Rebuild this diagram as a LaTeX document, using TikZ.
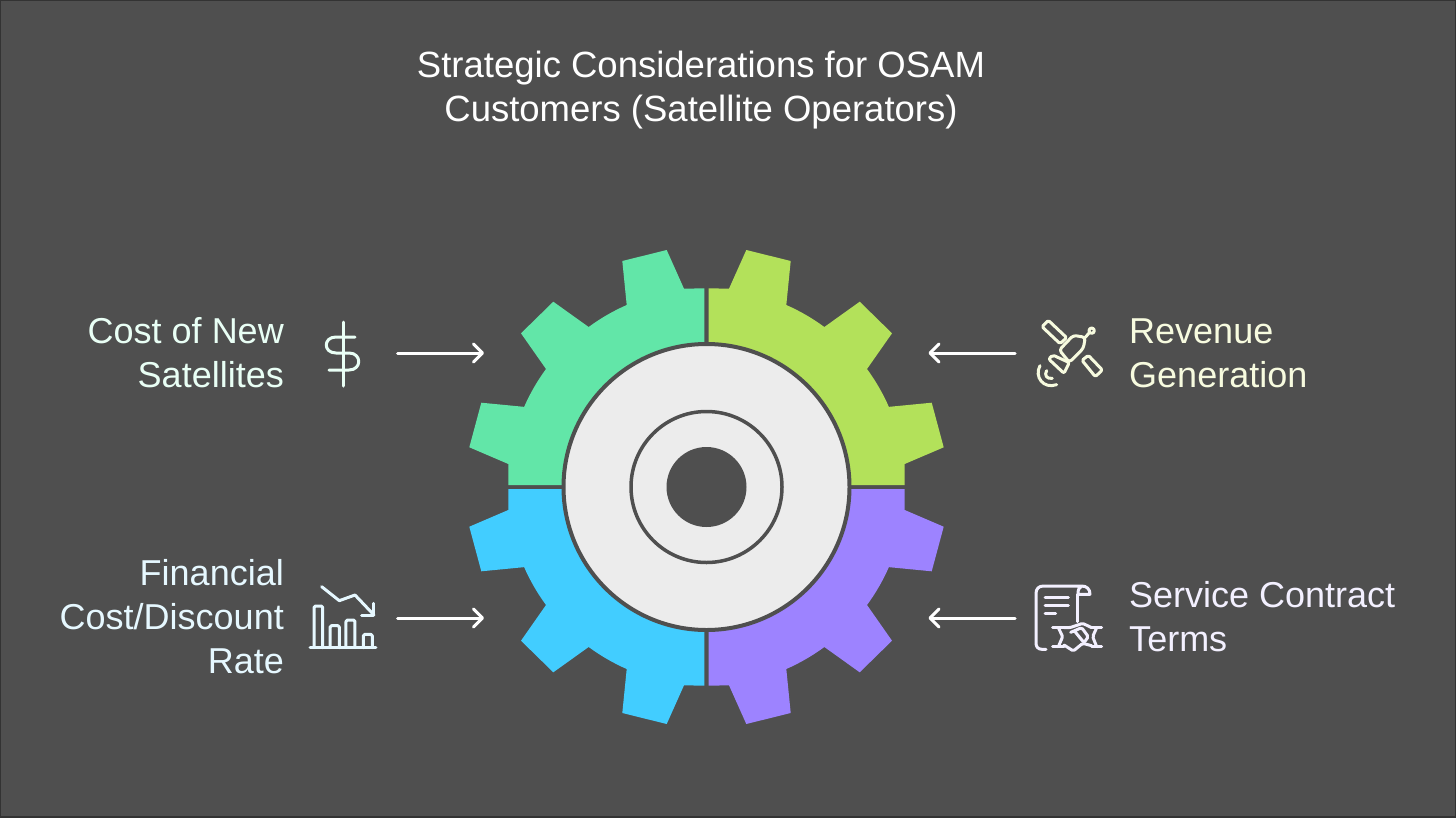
\documentclass[tikz,border=0pt]{standalone}
\usepackage{fontspec}
\setmainfont{Liberation Sans}
\usetikzlibrary{arrows.meta}
\definecolor{bgc}{HTML}{4F4F4F}
\definecolor{edgec}{HTML}{333333}
\definecolor{gg}{HTML}{62E6A8}
\definecolor{gl}{HTML}{B3E15A}
\definecolor{gb}{HTML}{42CDFF}
\definecolor{gp}{HTML}{9D83FF}
\definecolor{disc}{HTML}{ECECEC}
\definecolor{tg}{HTML}{E9FFF5}
\definecolor{ty}{HTML}{F7FBDF}
\definecolor{tb}{HTML}{E6F8FF}
\definecolor{tp}{HTML}{F3F0FF}
\tikzset{
  lbl/.style={font=\fontsize{36}{44}\selectfont,inner sep=0pt},
  ttl/.style={font=\fontsize{36.5}{44}\selectfont,inner sep=0pt,text=white,align=center},
  arr/.style={white,line width=3pt,line cap=round,line join=round,-{Straight Barb[length=9pt,width=18pt,round,line width=3pt]}},
  icon/.style={line width=3pt,line cap=round,line join=round,rounded corners=1.5pt},
}
% one quadrant of the gear, upper left, relative to the gear centre
\newcommand{\quadrantpath}{
  (-2.2,-143.7) -- (-2.2,-198.7) -- (-22.5,-198.3) -- (-39.8,-237) -- (-84.2,-226) -- (-79.8,-182)
  arc[start angle=-113.7,end angle=-126.4,radius=198.7]
  -- (-153.2,-185.3) -- (-185.5,-153.7) -- (-160.5,-118)
  arc[start angle=-143.7,end angle=-156.3,radius=199.2]
  -- (-225.2,-84.3) -- (-237.2,-39.7) -- (-198.2,-23) -- (-198.2,-2) -- (-143.2,-2)
  arc[start angle=-179.2,end angle=-91,radius=143.2] -- cycle
}
\begin{document}
\begin{tikzpicture}[x=1pt,y=-1pt]
\useasboundingbox (0,0) rectangle (1456,817);
\fill[bgc] (0,0) rectangle (1456,817);
\draw[edgec,line width=2pt] (0,0) rectangle (1456,817);

\node[ttl] (title) at (701,90) {Strategic Considerations for OSAM\\Customers (Satellite Operators)};

\coordinate (gc) at (706.5,487);
\begin{scope}[shift={(706.5,487)}]
  \fill[gg] \quadrantpath;
  \begin{scope}[xscale=-1]\fill[gl] \quadrantpath;\end{scope}
  \begin{scope}[yscale=-1]\fill[gb] \quadrantpath;\end{scope}
  \begin{scope}[xscale=-1,yscale=-1]\fill[gp] \quadrantpath;\end{scope}
\end{scope}
\node[circle,draw=bgc,fill=disc,line width=4pt,minimum size=286pt,inner sep=0pt] (disk) at (gc) {};
\node[circle,draw=bgc,fill=disc,line width=3.5pt,minimum size=151pt,inner sep=0pt] (ring) at (gc) {};
\node[circle,fill=bgc,minimum size=80pt,inner sep=0pt] (hole) at (gc) {};

\node[lbl,text=tg,align=right,anchor=east] (cost) at (284,353) {Cost of New\\Satellites};
\node[lbl,text=ty,align=left,anchor=west] (rev) at (1129,353) {Revenue\\Generation};
\node[lbl,text=tb,align=right,anchor=east] (fin) at (284,617) {Financial\\Cost/Discount\\Rate};
\node[lbl,text=tp,align=left,anchor=west] (svc) at (1129,617) {Service Contract\\Terms};

\coordinate (a1s) at (397.5,353); \coordinate (a1e) at (484,353);
\coordinate (a2s) at (1015,353); \coordinate (a2e) at (928.5,353);
\coordinate (a3s) at (397.5,618); \coordinate (a3e) at (484,618);
\coordinate (a4s) at (1015,618); \coordinate (a4e) at (928.5,618);
\draw[arr] (a1s) -- (a1e);
\draw[arr] (a2s) -- (a2e);
\draw[arr] (a3s) -- (a3e);
\draw[arr] (a4s) -- (a4e);

% dollar
\draw[icon,tg,rounded corners=0pt] (343,322) -- (343,386);
\draw[icon,tg,rounded corners=0pt] (355,337) -- (336,337) .. controls (323,337) and (323,353) .. (336,353) -- (349,353) .. controls (362,353) and (362,370) .. (349,370) -- (329,370);

% satellite
\begin{scope}[shift={(1020,310)},x=0.3333pt,y=-0.3333pt,ty,icon]
  \draw[rounded corners=1.5pt] (66,50) -- (85,31) -- (140,83) -- (120,101) -- cycle;
  \draw[rounded corners=1.5pt] (186,151) -- (205,136) -- (247,180) -- (226,200) -- cycle;
  \draw[rounded corners=3pt] (118,120) -- (160,76) -- (196,82) -- (190,115) -- (148,157) -- cycle;
  \draw[rounded corners=2pt] (86,147) -- (98,135) -- (148,158) -- (132,190) -- cycle;
  \draw (196,82) -- (208,68);
  \draw (215,62) circle[radius=8];
  \draw[rounded corners=0pt] (60,167) .. controls (42,200) and (70,238) .. (110,224);
  \draw[rounded corners=0pt] (80,182) .. controls (72,195) and (80,208) .. (97,205);
\end{scope}

% contract and handshake
\begin{scope}[shift={(1020,575)},x=0.3333pt,y=-0.3333pt,tp,icon]
  \draw[rounded corners=0pt] (78,223) -- (66,223) .. controls (54,223) and (48,215) .. (48,205) -- (48,55) .. controls (48,42) and (56,33) .. (70,33) -- (185,33) .. controls (200,33) and (210,42) .. (210,58) -- (174,58) .. controls (174,42) and (178,36) .. (186,33);
  \draw (172,58) -- (172,140);
  \draw (75,67) -- (145,67);
  \draw (75,90) -- (145,90);
  \draw (75,115) -- (107,115);
  \draw (98,158) -- (132,158);
  \draw (98,215) -- (132,215);
  \draw (115,158) -- (128,185) -- (115,215);
  \draw (245,158) -- (215,158);
  \draw (245,215) -- (215,215);
  \draw (230,158) -- (218,185) -- (230,215);
  \draw (132,158) -- (150,158) -- (188,145) -- (215,158);
  \draw (132,210) -- (160,228) -- (188,205) -- (215,212);
  \draw (152,172) -- (185,158) -- (205,185) -- (192,203) -- (165,170);
\end{scope}

% chart
\begin{scope}[shift={(300,575)},x=0.3333pt,y=-0.3333pt,tb,icon]
  \draw (30,218) -- (228,218);
  \draw (42,218) -- (42,93) -- (68,93) -- (68,218);
  \draw (90,218) -- (90,152) -- (118,152) -- (118,218);
  \draw (138,218) -- (138,135) -- (165,135) -- (165,218);
  \draw (190,218) -- (190,178) -- (217,178) -- (217,218);
  \draw[rounded corners=0pt] (65,35) -- (118,77) -- (165,60) -- (222,120);
  \draw[rounded corners=0pt] (222,85) -- (222,122) -- (185,122);
\end{scope}
\end{tikzpicture}
\end{document}
